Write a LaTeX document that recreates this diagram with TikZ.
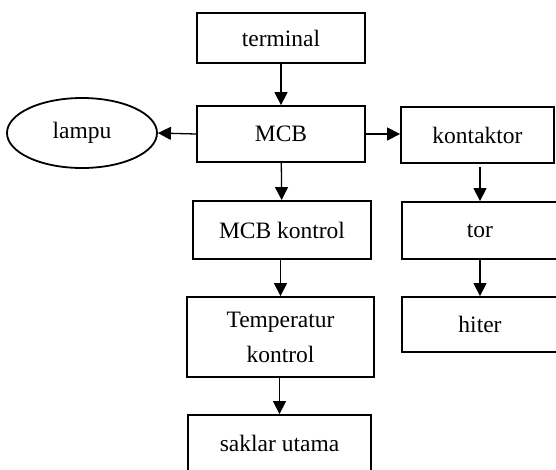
\documentclass[tikz,border=0pt]{standalone}
\usepackage{fontspec}
\setmainfont{Liberation Serif}
\usetikzlibrary{arrows.meta,shapes.geometric}

\begin{document}
\begin{tikzpicture}[x=1pt,y=-1pt,
  blok/.style={draw,line width=1.8pt,inner sep=0pt,align=center,
    font=\fontsize{23.5}{35}\selectfont},
  panah/.style={line width=1.3pt,-{Triangle[length=13pt,width=13pt]}}]
\useasboundingbox (0,0) rectangle (556,469);

\node[blok,minimum width=168pt,minimum height=50pt] (terminal) at (281,38) {terminal};
\node[blok,minimum width=168pt,minimum height=56pt] (mcb) at (281,134) {MCB};
\node[blok,ellipse,minimum width=150pt,minimum height=70pt] (lampu) at (82,133) {lampu};
\node[blok,minimum width=153pt,minimum height=56pt] (kontaktor) at (477.5,135) {kontaktor};
\node[blok,minimum width=178pt,minimum height=58pt] (mcbk) at (282,230) {MCB kontrol};
\node[blok,minimum width=156pt,minimum height=57pt] (tor) at (480,230.5) {tor};
\node[blok,minimum width=156pt,minimum height=55pt] (hiter) at (480,324.5) {hiter};
\node[blok,minimum width=187pt,minimum height=80pt] (temp) at (280.5,337) {Temperatur\\kontrol};
\node[blok,minimum width=183pt,minimum height=56pt] (saklar) at (279.5,443) {saklar utama};

\draw[panah] (terminal) -- (mcb);
\draw[panah] (mcb.west) -- (lampu.east);
\draw[panah] (mcb.east) -- (mcb.east -| kontaktor.west);
\draw[panah] (mcb) -- (mcbk);
\draw[panah,shorten <=3pt] (kontaktor.south -| tor) -- (tor.north);
\draw[panah] (tor) -- (hiter);
\draw[panah] (mcbk.south -| temp) -- (temp.north);
\draw[panah] (temp.south -| saklar) -- (saklar.north);
\end{tikzpicture}
\end{document}
